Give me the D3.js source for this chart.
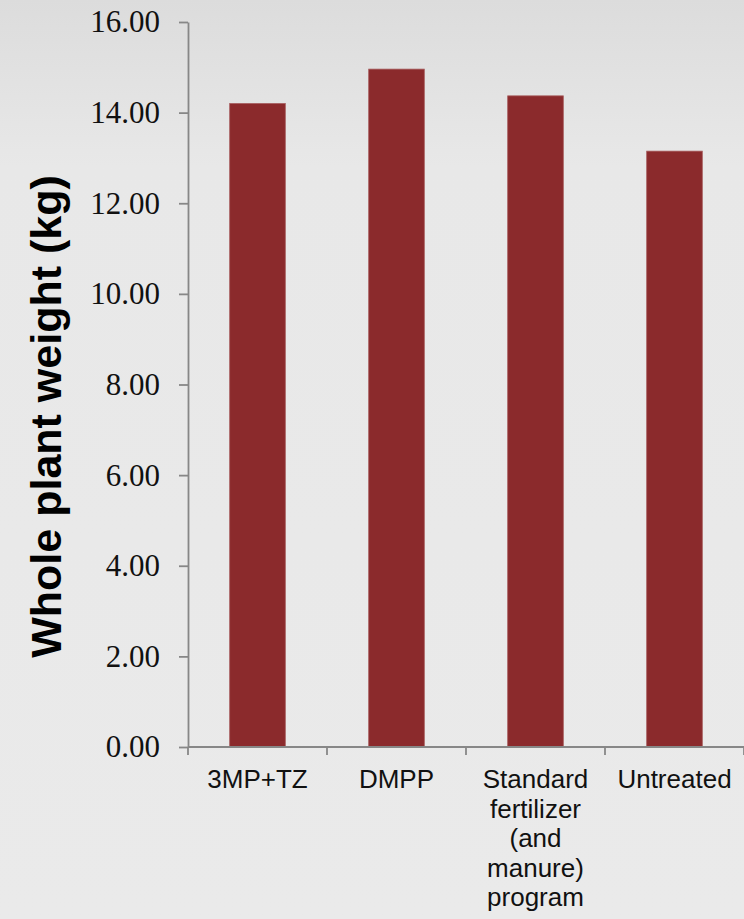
<!DOCTYPE html>
<html>
<head>
<meta charset="utf-8">
<script src="https://cdn.jsdelivr.net/npm/d3@7"></script>
<style>
  html, body { margin: 0; padding: 0; background: #e9e9e9; }
  svg { display: block; }
</style>
</head>
<body>
<svg id="chart" width="744" height="919"></svg>
<script>
// Whole plant weight per treatment
const categories = [
  ["3MP+TZ"],
  ["DMPP"],
  ["Standard", "fertilizer", "(and", "manure)", "program"],
  ["Untreated"]
];
const categoryKeys = ["3MP+TZ", "DMPP", "Standard fertilizer (and manure) program", "Untreated"];
const weights = [14.20, 14.96, 14.37, 13.15];
const yTicks = [0, 2, 4, 6, 8, 10, 12, 14, 16];
const yTitle = "Whole plant weight (kg)";

const W = 744, H = 919;
const margin = { left: 188, right: 0, top: 22, bottom: 172 };

const svg = d3.select("#chart");

// soft vertical background gradient
const defs = svg.append("defs");
const grad = defs.append("linearGradient")
  .attr("id", "bg").attr("x1", 0).attr("y1", 0).attr("x2", 0).attr("y2", 1);
grad.append("stop").attr("offset", "0%").attr("stop-color", "#dcdcdc");
grad.append("stop").attr("offset", "18%").attr("stop-color", "#e8e8e8");
grad.append("stop").attr("offset", "100%").attr("stop-color", "#eaeaea");
svg.append("rect").attr("width", W).attr("height", H).attr("fill", "url(#bg)");

const x = d3.scaleBand()
  .domain(categoryKeys)
  .range([margin.left, W - margin.right])
  .paddingInner(0.6)
  .paddingOuter(0.3);

const y = d3.scaleLinear()
  .domain([0, 16])
  .range([H - margin.bottom, margin.top]);

// bars
svg.append("g").selectAll("rect")
  .data(weights)
  .join("rect")
  .attr("x", (d, i) => x(categoryKeys[i]))
  .attr("y", d => y(d))
  .attr("width", x.bandwidth())
  .attr("height", d => y(0) - y(d))
  .attr("fill", "#8b2a2c")
  .attr("stroke", "#a65a5b")
  .attr("stroke-width", 0.8);

// y axis
const yAxis = svg.append("g")
  .attr("transform", `translate(${margin.left},0)`)
  .call(d3.axisLeft(y).tickValues(yTicks).tickFormat(d3.format(".2f")).tickSize(9).tickPadding(19).tickSizeOuter(0));
yAxis.select(".domain").attr("stroke", "#878787").attr("stroke-width", 1.8);
yAxis.selectAll(".tick line").attr("stroke", "#878787").attr("stroke-width", 1.8);
yAxis.selectAll(".tick text")
  .attr("fill", "#111")
  .style("font-family", "'Liberation Serif', 'Times New Roman', serif")
  .style("font-size", "31px");

// x axis with category boundary ticks
const step = x.step();
const bounds = d3.range(categoryKeys.length + 1).map(i => margin.left + i * step);
const xAxisG = svg.append("g");
xAxisG.append("line")
  .attr("x1", margin.left).attr("x2", W)
  .attr("y1", y(0)).attr("y2", y(0))
  .attr("stroke", "#878787").attr("stroke-width", 1.8);
xAxisG.selectAll("line.tk")
  .data(bounds)
  .join("line")
  .attr("class", "tk")
  .attr("x1", d => d).attr("x2", d => d)
  .attr("y1", y(0)).attr("y2", y(0) + 8)
  .attr("stroke", "#878787").attr("stroke-width", 1.8);

// category labels
const labels = svg.append("g").selectAll("text")
  .data(categories)
  .join("text")
  .attr("x", (d, i) => x(categoryKeys[i]) + x.bandwidth() / 2)
  .attr("y", y(0) + 41)
  .attr("text-anchor", "middle")
  .attr("fill", "#111")
  .style("font-family", "'Liberation Sans', Arial, sans-serif")
  .style("font-size", "26px");
labels.selectAll("tspan")
  .data((d, i) => d.map(t => ({ t, i })))
  .join("tspan")
  .attr("x", d => x(categoryKeys[d.i]) + x.bandwidth() / 2)
  .attr("dy", (d, j) => j === 0 ? 0 : 29.5)
  .text(d => d.t);

// y axis title
svg.append("text")
  .attr("transform", `translate(61, ${(y(0) + y(16)) / 2 + 32}) rotate(-90)`)
  .attr("text-anchor", "middle")
  .attr("fill", "#000")
  .style("font-family", "'Liberation Sans', Arial, sans-serif")
  .style("font-weight", "bold")
  .style("font-size", "43px")
  .text(yTitle);
</script>
</body>
</html>
